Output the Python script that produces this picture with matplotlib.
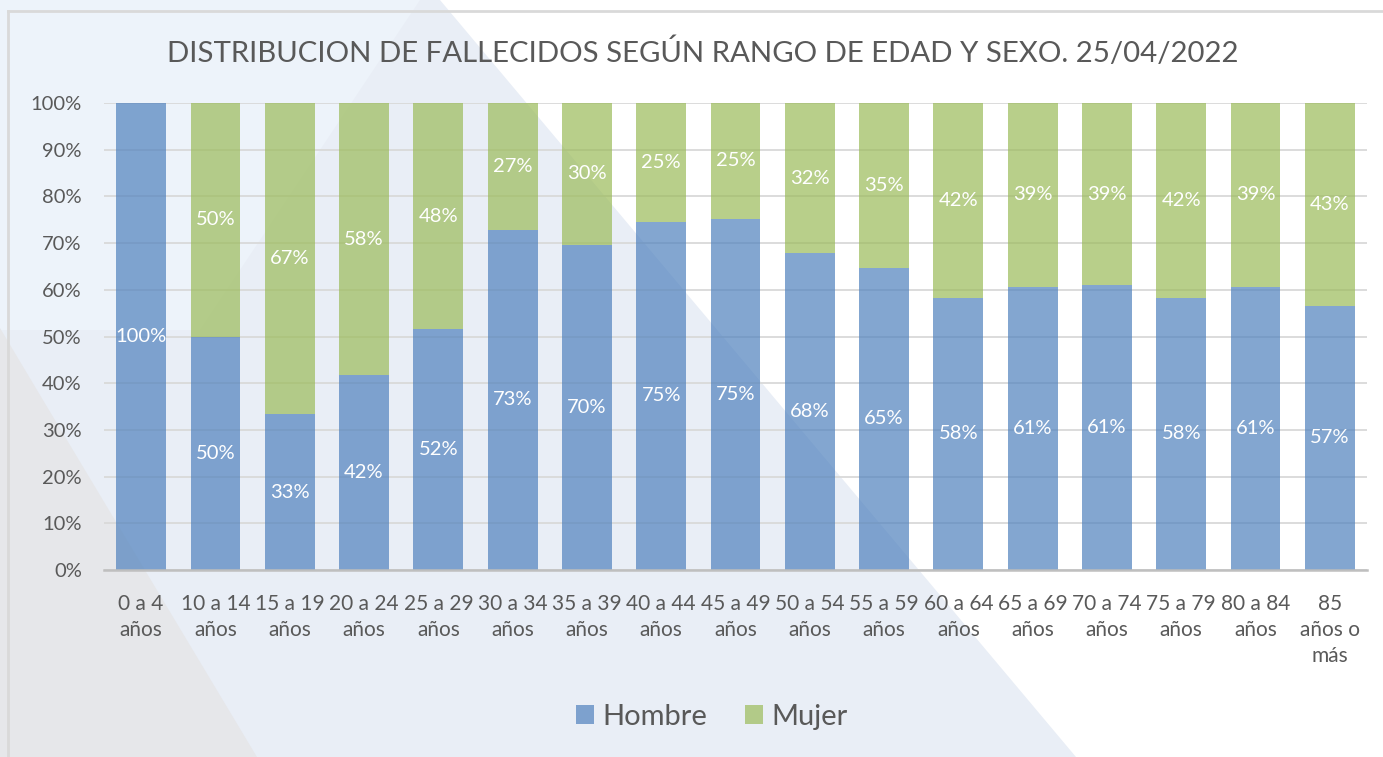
import matplotlib
matplotlib.use("Agg")
import matplotlib.pyplot as plt
from matplotlib.patches import Polygon, Patch
from matplotlib.lines import Line2D
import numpy as np

categories = ["0 a 4\naños", "10 a 14\naños", "15 a 19\naños", "20 a 24\naños", "25 a 29\naños",
              "30 a 34\naños", "35 a 39\naños", "40 a 44\naños", "45 a 49\naños", "50 a 54\naños",
              "55 a 59\naños", "60 a 64\naños", "65 a 69\naños", "70 a 74\naños", "75 a 79\naños",
              "80 a 84\naños", "85\naños o\nmás"]
hombre = [100.0, 50.0, 33.3, 41.7, 51.6, 72.9, 69.6, 74.6, 75.2, 67.8, 64.7, 58.3, 60.7, 61.0, 58.3, 60.7, 56.6]
mujer = [0.0, 50.0, 66.7, 58.3, 48.4, 27.1, 30.4, 25.4, 24.8, 32.2, 35.3, 41.7, 39.3, 39.0, 41.7, 39.3, 43.4]
yticks = [0, 10, 20, 30, 40, 50, 60, 70, 80, 90, 100]
title = "DISTRIBUCION DE FALLECIDOS SEGÚN RANGO DE EDAD Y SEXO. 25/04/2022"

plt.rcParams['font.family'] = ['Lato', 'DejaVu Sans']
W, H = 1383, 757
fig = plt.figure(figsize=(W / 100, H / 100), dpi=100)

# background shapes (figure pixel coords)
bg = fig.add_axes([0, 0, 1, 1], zorder=-10)
bg.set_xlim(0, W)
bg.set_ylim(H, 0)
bg.axis('off')
bg.add_patch(Polygon([[0, 0], [W, 0], [W, H], [0, H]], closed=True, color='#e9eef6', lw=0))
bg.add_patch(Polygon([[0, 0], [420, 0], [200, 330], [0, 330]], closed=True, color='#edf3fa', lw=0))
bg.add_patch(Polygon([[440, 0], [W, 0], [W, H], [1076, H]], closed=True, color='#ffffff', lw=0))
bg.add_patch(Polygon([[0, 328], [43, 400], [257, H], [0, H]], closed=True, color='#e6e7ea', lw=0))
bg.add_line(Line2D([8, W], [11, 11], color='#d9d9d9', lw=2))
bg.add_line(Line2D([8, 8], [11, H], color='#d9d9d9', lw=2))

ax = fig.add_axes([104 / W, 1 - 570 / H, (1367 - 104) / W, (570 - 103) / H])
ax.patch.set_alpha(0)
x = np.arange(len(categories))
bw = 0.67
blue = (79 / 255, 129 / 255, 189 / 255, 0.7)
green = (155 / 255, 187 / 255, 89 / 255, 0.7)
ax.bar(x, hombre, bw, color=blue, zorder=3, label='Hombre')
ax.bar(x, mujer, bw, bottom=hombre, color=green, zorder=3, label='Mujer')

for i in range(len(categories)):
    if hombre[i] > 0:
        ax.text(x[i], hombre[i] / 2, f"{round(hombre[i])}%", ha='center', va='center',
                color='white', fontsize=14.5, zorder=5)
    if mujer[i] > 0:
        ax.text(x[i], hombre[i] + mujer[i] / 2, f"{round(mujer[i])}%", ha='center', va='center',
                color='white', fontsize=14.5, zorder=5)

ax.set_xlim(-0.5, len(categories) - 0.5)
ax.set_ylim(0, 100)
ax.set_yticks(yticks)
ax.set_yticklabels([f"{v}%" for v in yticks], fontsize=14.5, color='#595959')
ax.set_xticks(x)
ax.set_xticklabels(categories, fontsize=15, color='#595959', linespacing=1.38, va='top')
ax.tick_params(axis='both', length=0)
ax.tick_params(axis='x', pad=17)
ax.tick_params(axis='y', pad=16)
ax.grid(axis='y', color='#d9d9d9', lw=1.3, zorder=0)
for s in ['top', 'right', 'left']:
    ax.spines[s].set_visible(False)
ax.spines['bottom'].set_color('#bfbfbf')
ax.spines['bottom'].set_linewidth(1.8)
ax.spines['bottom'].set_zorder(4)

fig.text(703 / W, 1 - 52 / H, title, ha='center', va='center', fontsize=21.2, color='#595959')

handles = [Patch(facecolor=blue, edgecolor='none'), Patch(facecolor=green, edgecolor='none')]
fig.legend(handles, ['Hombre', 'Mujer'], loc='center', bbox_to_anchor=(712 / W, 1 - 717 / H),
           ncol=2, frameon=False, fontsize=21, handlelength=0.6, handleheight=0.6,
           handletextpad=0.3, columnspacing=1.3, labelcolor='#595959')

fig.savefig('out.png', dpi=100)
